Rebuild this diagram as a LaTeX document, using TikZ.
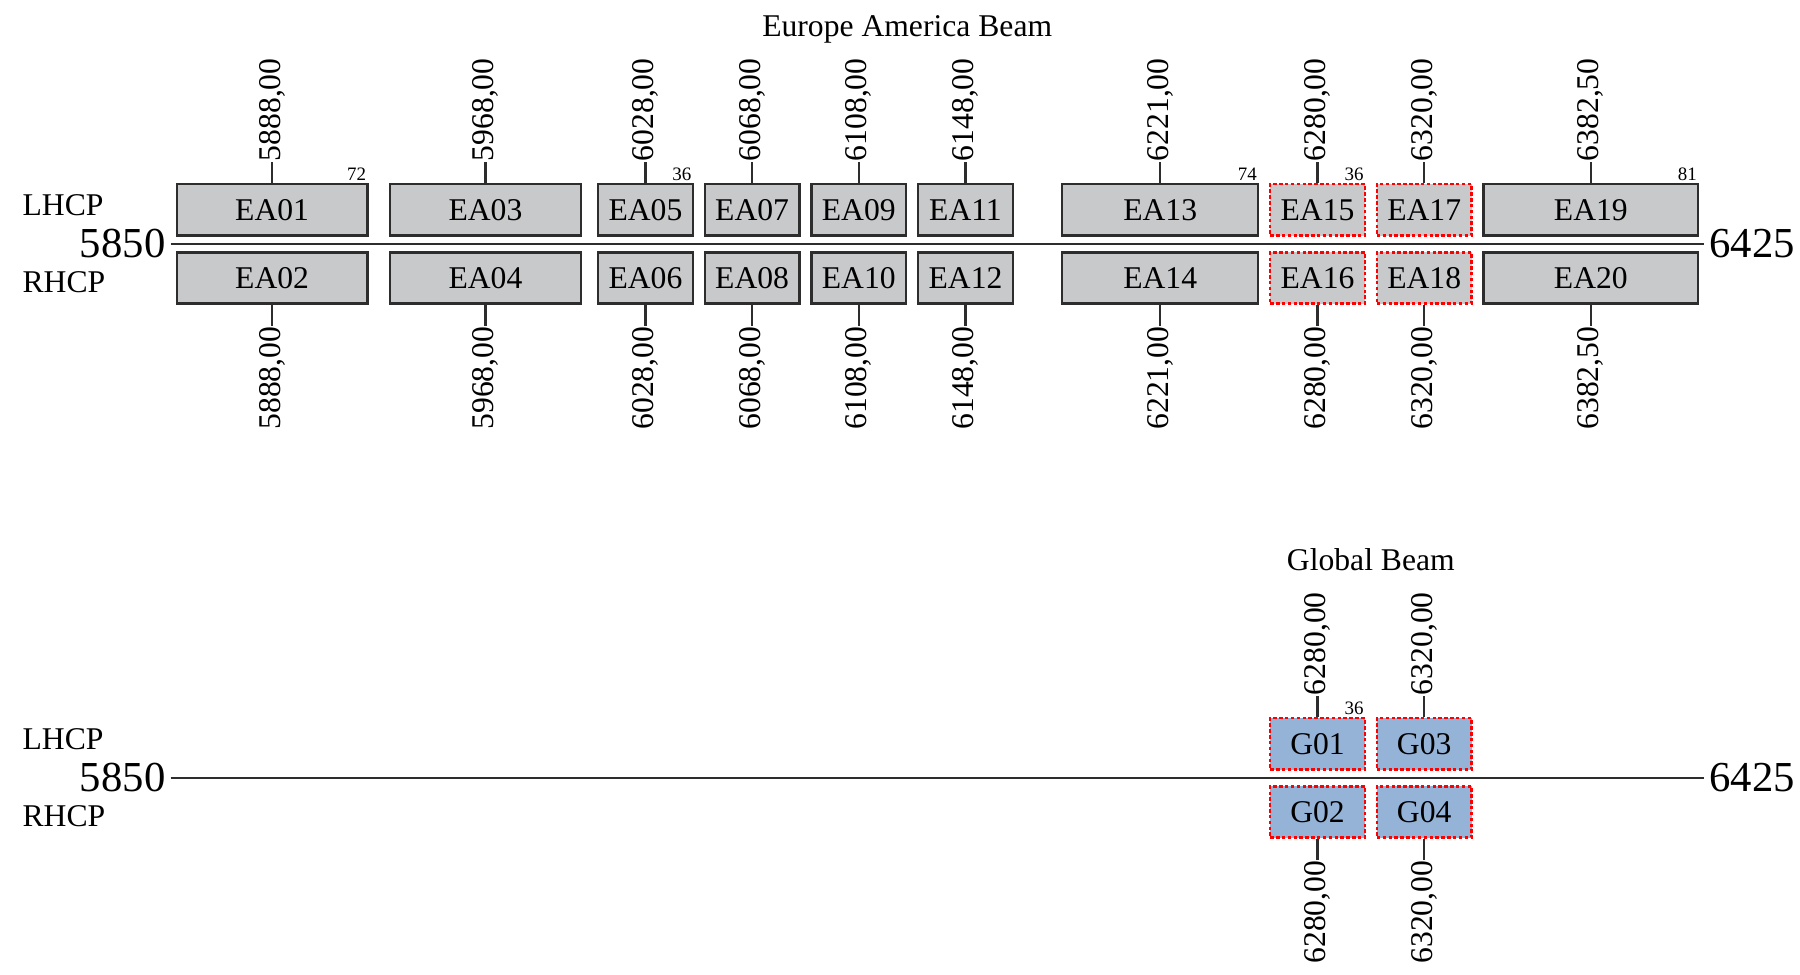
\documentclass[tikz,border=0pt]{standalone}
\usepackage{fontspec}
\setmainfont{Liberation Serif}
\usepackage{tikz}
\usetikzlibrary{math}

\definecolor{chgray}{RGB}{200,201,203}
\definecolor{chblue}{RGB}{149,179,215}
\definecolor{chline}{RGB}{45,45,45}

\tikzset{
  chan/.style={draw=chline, fill=chgray, line width=0.75pt, minimum height=0.57cm, inner sep=0pt},
  chanopt/.style={chan, draw=red, dash pattern=on 1.1pt off 0.75pt},
  changlob/.style={chanopt, fill=chblue},
  freqlbl/.style={rotate=90, inner sep=0.2pt},
  cornernote/.style={font=\fontsize{6}{7}\selectfont, inner sep=0.6pt},
  endlbl/.style={font=\fontsize{13.5}{16}\selectfont, inner sep=1.5pt},
  freqaxis/.style={draw=chline, line width=0.6pt},
  tickline/.style={draw=chline, line width=0.75pt},
}

\begin{document}
\begin{tikzpicture}

  \tikzmath{
    \xo   = 1.897;   % x of 5850 MHz
    \mhz  = 0.02963; % cm per MHz
    \gap  = 0.08;    % gap between axis and boxes
    \bh   = 0.57;    % box height
    \tick = 0.256;   % length of the frequency ticks
    \dy   = -5.933;  % y of the global beam axis
  }

  \useasboundingbox (0,2.711) rectangle (20,-8.122);

  % frequency axes with polarisations
  \foreach \yy/\s in {0/ea, \dy/g}{
    \node[endlbl, anchor=east] (\s lo) at (\xo, \yy) {5850};
    \node[endlbl, anchor=west] (\s hi) at ({\xo+575*\mhz}, \yy) {6425};
    \draw[freqaxis] (\s lo) -- (\s hi);
    \node[anchor=west, inner sep=0pt] (\s lhcp) at (0.244, \yy+0.43) {LHCP};
    \node[anchor=west, inner sep=0pt] (\s rhcp) at (0.244, \yy-0.42) {RHCP};
  }

  % beam titles
  \node[anchor=base] (eatitle) at (10.08, 2.3) {Europe America Beam};
  \node[anchor=base] (gtitle) at ({\xo+450*\mhz}, \dy+2.3) {Global Beam};

  % Europe America channels
  \foreach \u/\l/\f/\d/\bw/\sty in {
    01/02/5888/00/72/chan,
    03/04/5968/00/72/chan,
    05/06/6028/00/36/chan,
    07/08/6068/00/36/chan,
    09/10/6108/00/36/chan,
    11/12/6148/00/36/chan,
    13/14/6221/00/74/chan,
    15/16/6280/00/36/chanopt,
    17/18/6320/00/36/chanopt,
    19/20/6382/50/81/chan}{
    \pgfmathsetmacro\cx{\xo+(\f.\d-5850)*\mhz}
    \pgfmathsetmacro\cw{\bw*\mhz-0.015}
    \node[\sty, minimum width=\cw cm, anchor=south] (ea\u) at (\cx, \gap) {EA\u};
    \node[\sty, minimum width=\cw cm, anchor=north] (ea\l) at (\cx, -\gap) {EA\l};
    \node[freqlbl, anchor=west] (fea\u) at (\cx, \gap+\bh+\tick) {\f,\d};
    \node[freqlbl, anchor=east] (fea\l) at (\cx, -\gap-\bh-\tick) {\f,\d};
    \draw[tickline] (ea\u) -- (fea\u);
    \draw[tickline] (ea\l) -- (fea\l);
  }

  % Global channels
  \foreach \u/\l/\f/\d in {01/02/6280/00, 03/04/6320/00}{
    \pgfmathsetmacro\cx{\xo+(\f.\d-5850)*\mhz}
    \pgfmathsetmacro\cw{36*\mhz-0.015}
    \node[changlob, minimum width=\cw cm, anchor=south] (g\u) at (\cx, \dy+\gap) {G\u};
    \node[changlob, minimum width=\cw cm, anchor=north] (g\l) at (\cx, \dy-\gap) {G\l};
    \node[freqlbl, anchor=west] (fg\u) at (\cx, \dy+\gap+\bh+\tick) {\f,\d};
    \node[freqlbl, anchor=east] (fg\l) at (\cx, \dy-\gap-\bh-\tick) {\f,\d};
    \draw[tickline] (g\u) -- (fg\u);
    \draw[tickline] (g\l) -- (fg\l);
  }

  % bandwidths
  \foreach \n/\bw in {ea01/72, ea05/36, ea13/74, ea15/36, ea19/81, g01/36}
    \node[cornernote, anchor=south east] (bw\n) at (\n.north east) {\bw};

\end{tikzpicture}
\end{document}
